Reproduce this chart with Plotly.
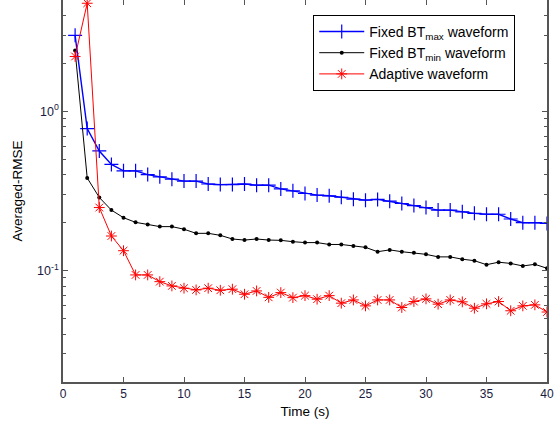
import plotly.graph_objects as go

# Time axis (s)
time_s = list(range(1, 41))

# Averaged RMSE per waveform strategy
rmse_bt_max = [3.00, 0.78, 0.564, 0.464, 0.423, 0.423, 0.401, 0.388, 0.375, 0.365,
               0.365, 0.350, 0.347, 0.347, 0.350, 0.344, 0.344, 0.326, 0.317, 0.305,
               0.298, 0.295, 0.289, 0.281, 0.277, 0.280, 0.273, 0.264, 0.256, 0.249,
               0.240, 0.240, 0.234, 0.229, 0.226, 0.226, 0.211, 0.200, 0.200, 0.198]
rmse_bt_min = [2.41, 0.382, 0.288, 0.240, 0.215, 0.201, 0.195, 0.189, 0.189, 0.182,
               0.1715, 0.1715, 0.1666, 0.158, 0.1556, 0.158, 0.1556, 0.155, 0.152, 0.150,
               0.150, 0.146, 0.146, 0.143, 0.140, 0.1315, 0.135, 0.1315, 0.1297, 0.1266,
               0.122, 0.122, 0.118, 0.1155, 0.109, 0.113, 0.111, 0.107, 0.1096, 0.1035]
rmse_adaptive = [2.21, 4.77, 0.249, 0.165, 0.1334, 0.094, 0.094, 0.0853, 0.0802, 0.0776,
                 0.0757, 0.0776, 0.0753, 0.0765, 0.0711, 0.0746, 0.068, 0.0728, 0.0677, 0.0697,
                 0.0662, 0.0697, 0.0625, 0.0655, 0.0601, 0.0655, 0.0655, 0.0587, 0.064, 0.0665,
                 0.0616, 0.0655, 0.0637, 0.0581, 0.0619, 0.064, 0.056, 0.0601, 0.061, 0.055]

series_names = ["Fixed BT<sub>max</sub> waveform",
                "Fixed BT<sub>min</sub> waveform",
                "Adaptive waveform"]

x_ticks = [0, 5, 10, 15, 20, 25, 30, 35, 40]
y_major = [0.1, 1]
y_major_text = ["10<sup>-1</sup>", "10<sup>0</sup>"]
y_minor = [0.02, 0.03, 0.04, 0.05, 0.06, 0.07, 0.08, 0.09,
           0.2, 0.3, 0.4, 0.5, 0.6, 0.7, 0.8, 0.9, 2, 3, 4, 5]

axis_color = "#555555"
font_family = "Liberation Sans, Arial, sans-serif"
fs = 13.5

fig = go.Figure()
fig.add_trace(go.Scatter(
    x=time_s, y=rmse_bt_max, name=series_names[0], mode="lines+markers",
    line=dict(color="#0000ff", width=1.4),
    marker=dict(symbol="cross-thin-open", size=10, color="#0000ff", line=dict(width=1.2, color="#0000ff")),
))
fig.add_trace(go.Scatter(
    x=time_s, y=rmse_bt_min, name=series_names[1], mode="lines+markers",
    line=dict(color="#000000", width=1),
    marker=dict(symbol="circle", size=4, color="#000000"),
))
fig.add_trace(go.Scatter(
    x=time_s, y=rmse_adaptive, name=series_names[2], mode="lines+markers",
    line=dict(color="#ff0000", width=1),
    marker=dict(symbol="asterisk-open", size=9, color="#ff0000", line=dict(width=1, color="#ff0000")),
))
# invisible trace on a top x axis to carry the top tick marks
fig.add_trace(go.Scatter(x=[0, 40], y=[1, 1], xaxis="x2", mode="none",
                         showlegend=False, hoverinfo="skip"))

fig.update_layout(
    width=554, height=427,
    margin=dict(l=63, r=7, t=0, b=45),
    paper_bgcolor="white", plot_bgcolor="white",
    font=dict(family=font_family, size=fs, color="#000000"),
    showlegend=True,
    legend=dict(x=0.517, y=0.961, xanchor="left", yanchor="top",
                bgcolor="white", bordercolor="#000000", borderwidth=1,
                font=dict(size=14), itemwidth=45),
    xaxis=dict(range=[0, 40], tickvals=x_ticks, ticks="inside", ticklen=5,
               tickcolor=axis_color, showline=True, linecolor=axis_color, linewidth=1.5,
               mirror=False, showgrid=False, zeroline=False,
               tickfont=dict(size=12, color="#1a1a40"),
               title=dict(text="Time (s)", standoff=6, font=dict(size=fs))),
    xaxis2=dict(range=[0, 40], overlaying="x", side="top", tickvals=x_ticks,
                ticks="inside", ticklen=5, tickcolor=axis_color, showline=False,
                showticklabels=False, showgrid=False, zeroline=False),
    yaxis=dict(type="log", range=[-1.69897, 0.69897], tickvals=y_major,
               ticktext=y_major_text, ticks="inside", ticklen=5, tickcolor=axis_color,
               showline=True, linecolor=axis_color, linewidth=1.5, mirror="ticks",
               showgrid=False, zeroline=False,
               tickfont=dict(size=12.5, color="#1a1a40"),
               minor=dict(tickvals=y_minor, ticks="inside", ticklen=3, tickcolor=axis_color,
                          showgrid=False),
               title=dict(text="Averaged-RMSE", standoff=11, font=dict(size=fs))),
)

fig.write_html("out.html")
